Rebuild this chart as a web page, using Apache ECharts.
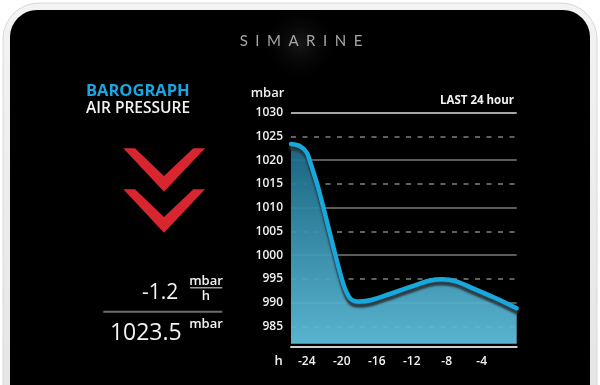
<!DOCTYPE html>
<html><head><meta charset="utf-8">
<script src="https://cdn.jsdelivr.net/npm/echarts@6/dist/echarts.min.js"></script>
<style>html,body{margin:0;padding:0;background:#fff}#c{width:600px;height:385px}</style>
</head><body><div id="c"></div>
<script>
// ---- data ----
const hours = [-25.8,-24.8,-24.0,-23.5,-22.6,-21.0,-19.8,-19.0,-18.0,-16.5,-14.5,-12.0,-10.0,-8.5,-7.0,-5.0,-2.5,0];
const pressure = [1023.4,1023.0,1021.6,1019.0,1013.6,1002.0,993.8,990.8,990.2,990.6,991.8,993.4,994.6,994.9,994.5,993.0,991.0,988.8];
const xTickLabels = [-24,-20,-16,-12,-8,-4];
const yMin = 980, yMax = 1030, yStep = 5;
const trendValue = '-1.2';
const currentValue = '1023.5';
const brand = 'SIMARINE';

const FONT = '"Open Sans", "DejaVu Sans", sans-serif';
const ticks = [];
for (let v = yMin; v <= yMax; v += yStep) ticks.push(v);
const solidColors = ticks.map(v => v === yMax ? '#dcdcdc' : (v % 10 === 0 && v > yMin ? '#7a7a7a' : 'rgba(0,0,0,0)'));
const dashColors = ticks.map(v => (v % 10 !== 0) ? '#808080' : 'rgba(0,0,0,0)');

// letter-spaced brand
const cv = document.createElement('canvas').getContext('2d');
const brandFont = 'normal 15px Lato, "Open Sans", sans-serif';
cv.font = brandFont;
const spacing = 7.5;
const widths = brand.split('').map(ch => cv.measureText(ch).width);
const total = widths.reduce((a, b) => a + b, 0) + spacing * (brand.length - 1);
let bx = 301 - total / 2;
const brandEls = brand.split('').map((ch, i) => {
  const el = { type: 'text', x: bx, y: 41.5, z: 10, style: { text: ch, fill: '#a6a6a6', font: brandFont, textAlign: 'left', textVerticalAlign: 'middle' } };
  bx += widths[i] + spacing;
  return el;
});

function txt(x, y, text, size, opts) {
  opts = opts || {};
  return { type: 'text', x: x, y: y, z: 10, silent: true,
    style: { text: text, fill: opts.fill || '#f2f2f2', font: (opts.weight || '600') + ' ' + size + 'px ' + FONT,
      textAlign: opts.align || 'left', textVerticalAlign: 'middle' } };
}
function chevron(dy) {
  return { type: 'polygon', z: 10, silent: true,
    shape: { points: [[123.3,148.3+dy],[135,148.3+dy],[164,176+dy],[193.3,148.3+dy],[205,148.3+dy],[164,191.7+dy]] },
    style: { fill: '#d7262f' } };
}

const chart = echarts.init(document.getElementById('c'), null, { renderer: 'canvas' });
chart.setOption({
  backgroundColor: 'transparent',
  animation: false,
  grid: { left: 291, top: 112.7, right: 83.3, bottom: 35, outerBoundsMode: 'none' },
  xAxis: {
    type: 'value', min: hours[0], max: 0, offset: -3,
    axisLine: { show: true, lineStyle: { color: '#cfcfcf', width: 2 } },
    axisTick: { show: false },
    splitLine: { show: false },
    axisLabel: { customValues: xTickLabels, color: '#f2f2f2', fontSize: 12, fontFamily: FONT, fontWeight: 600, margin: 9 }
  },
  yAxis: [{
    type: 'value', min: yMin, max: yMax, interval: yStep,
    axisLine: { show: false }, axisTick: { show: false },
    axisLabel: { color: '#f2f2f2', fontSize: 12, fontFamily: FONT, fontWeight: 600, margin: 8, showMinLabel: false,
      formatter: v => String(v) },
    splitLine: { show: true, lineStyle: { color: solidColors, width: 1.5, type: 'solid' } }
  }, {
    type: 'value', min: yMin, max: yMax, interval: yStep, position: 'left',
    axisLine: { show: false }, axisTick: { show: false }, axisLabel: { show: false },
    splitLine: { show: true, lineStyle: { color: dashColors, width: 1.5, type: [5, 6.5] } }
  }],
  series: [{
    type: 'line', yAxisIndex: 0,
    data: hours.map((h, i) => [h, pressure[i]]),
    smooth: 0.3, showSymbol: false, symbol: 'none', silent: true,
    lineStyle: { color: '#19a8dc', width: 4.5, cap: 'round', join: 'round',
      shadowColor: 'rgba(40,50,56,0.9)', shadowBlur: 2, shadowOffsetY: 4 },
    areaStyle: { origin: 981.3, opacity: 0.93,
      color: { type: 'linear', x: 0, y: 0, x2: 0, y2: 1,
        colorStops: [{ offset: 0, color: '#1b6c8a' }, { offset: 1, color: '#5fc1de' }] } }
  }],
  graphic: [
    { type: 'rect', z: -20, silent: true, shape: { x: 3, y: 3, width: 594, height: 430, r: 36 },
      style: { fill: { type: 'linear', x: 0, y: 0, x2: 0, y2: 1, colorStops: [{ offset: 0, color: '#f3f3f3' }, { offset: 1, color: '#e4e4e4' }] },
        stroke: '#d8d8d8', lineWidth: 1 } },
    { type: 'rect', z: -19, silent: true, shape: { x: 10, y: 10, width: 580, height: 430, r: 27 }, style: { fill: '#000' } },
    { type: 'rect', z: -18, silent: true, shape: { x: 200, y: 10, width: 200, height: 80 },
      style: { fill: { type: 'radial', x: 0.5, y: 0.42, r: 0.5, colorStops: [{ offset: 0, color: 'rgba(34,34,34,0.7)' }, { offset: 1, color: 'rgba(0,0,0,0)' }] } } },
    ...brandEls,
    txt(86, 91, 'BAROGRAPH', 16.5, { fill: '#1aa6e0', weight: 'bold' }),
    txt(86, 109, 'AIR PRESSURE', 15.5),
    chevron(0), chevron(41),
    txt(178.3, 293.5, trendValue, 21, { align: 'right', weight: '500' }),
    txt(206, 281.3, 'mbar', 13, { align: 'center' }),
    { type: 'line', z: 10, silent: true, shape: { x1: 190, y1: 287.7, x2: 222.3, y2: 287.7 }, style: { stroke: '#9a9a9a', lineWidth: 1.5 } },
    txt(206, 296.2, 'h', 13, { align: 'center' }),
    { type: 'line', z: 10, silent: true, shape: { x1: 103.3, y1: 311.7, x2: 222.3, y2: 311.7 }, style: { stroke: '#6e6e6e', lineWidth: 2 } },
    txt(181.7, 333.5, currentValue, 23, { align: 'right', weight: '500' }),
    txt(206, 323.8, 'mbar', 13, { align: 'center' }),
    txt(267.5, 92.8, 'mbar', 13, { align: 'center' }),
    txt(514, 100.8, 'LAST 24 hour', 11.5, { align: 'right', weight: 'bold' }),
    txt(282.7, 361, 'h', 13, { align: 'right' })
  ]
});
</script></body></html>
